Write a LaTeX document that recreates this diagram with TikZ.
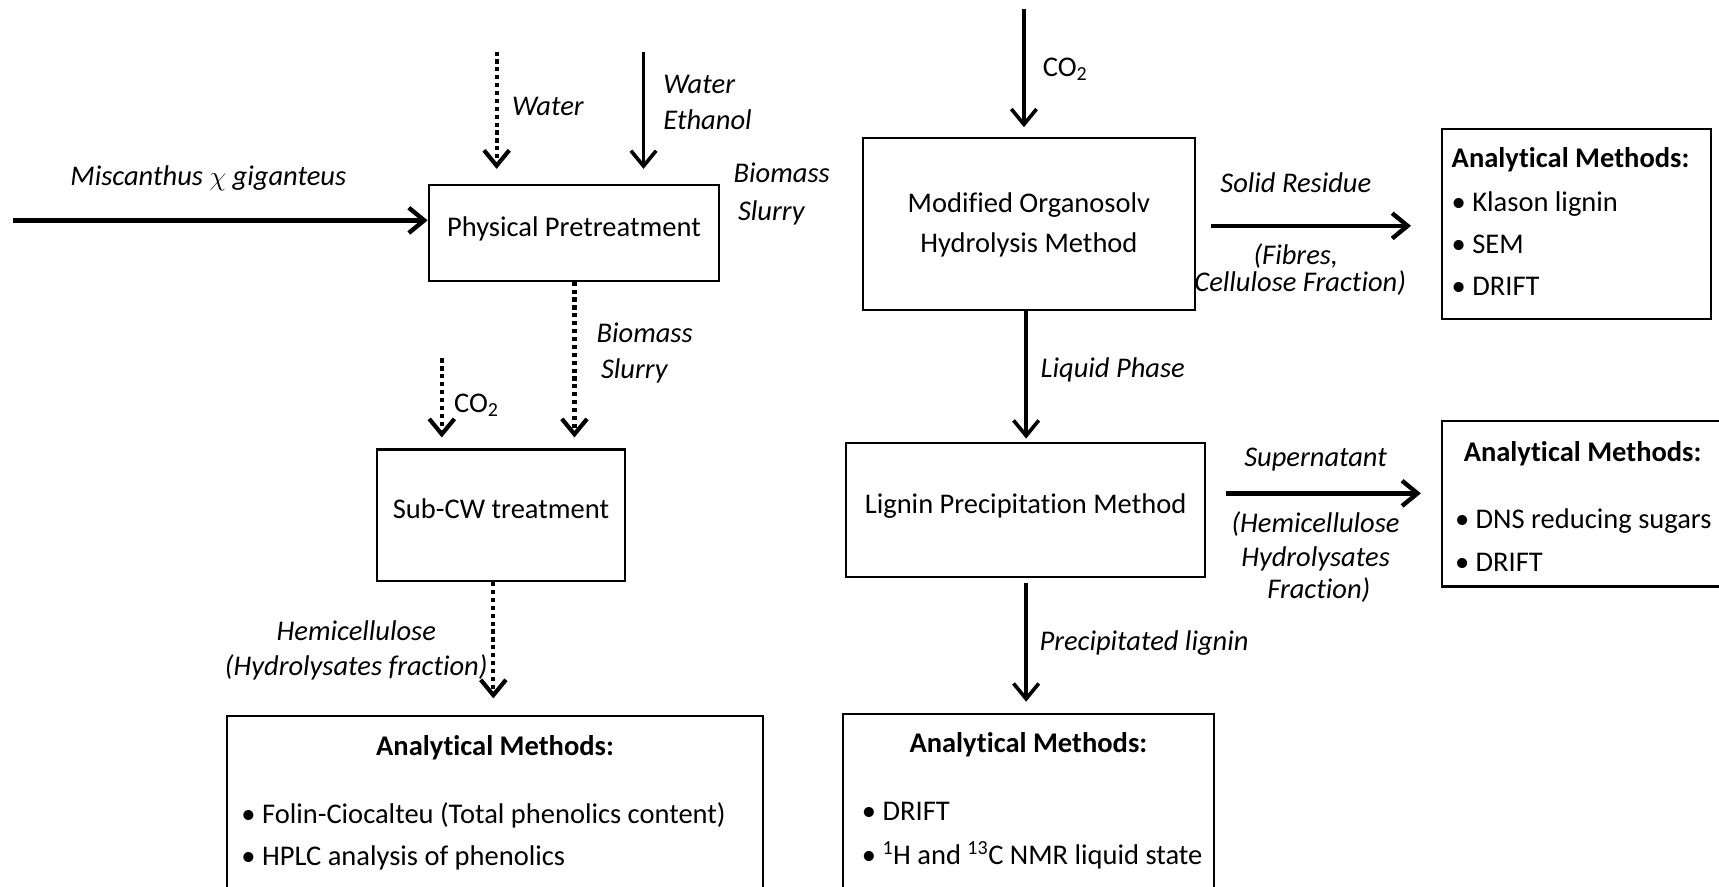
\documentclass[tikz,border=0pt]{standalone}
\usepackage{fontspec}
\setmainfont{Carlito}[Ligatures=NoCommon]
\usetikzlibrary{arrows.meta}
\begin{document}
\begin{tikzpicture}[x=1pt,y=-1pt,
  every node/.style={inner sep=0pt, font=\fontsize{26}{37}\selectfont},
  box/.style={draw, line width=1.9pt, text height=0.63em, text depth=0pt},
  lbl/.style={font=\fontsize{26}{37}\selectfont\itshape},
  head/.style={font=\fontsize{26}{37}\selectfont\bfseries},
  sarr/.style={line width=3.3pt, -{Straight Barb[length=14pt,width=23pt]}},
  darr/.style={sarr, line width=3.8pt, dash pattern=on 3.8pt off 3.4pt},
]
\useasboundingbox (0,0) rectangle (1568,809);
\clip (0,0) rectangle (1568,809);

% boxes
\node[box, minimum width=265pt, minimum height=87pt] (pp) at (523.5,212.5) {Physical Pretreatment};
\node[box, minimum width=226pt, minimum height=120pt] (sub) at (457,470) {Sub-CW treatment};
\node[box, minimum width=489pt, minimum height=162pt] (bl) at (451.5,734) {};
\node[box, minimum width=303pt, minimum height=157pt] (mo) at (938.5,204.5) {};
\node[box, minimum width=327pt, minimum height=122pt] (lig) at (935.5,465) {Lignin Precipitation Method};
\node[box, minimum width=246pt, minimum height=173pt] (am1) at (1438,204.5) {};
\node[box, minimum width=265pt, minimum height=151pt] (am2) at (1447.5,459.5) {};
\node[box, minimum width=338pt, minimum height=164pt] (br) at (938,733) {};

% left texts
\node[lbl, anchor=base] (tmisc) at (190,169.5) {Miscanthus $\chi$ giganteus};
\node[lbl, anchor=base west] (twater1) at (467,105.5) {Water};
\node[lbl, anchor=base west] (twater2) at (605,85.5) {Water};
\node[lbl, anchor=base west] (tethanol) at (605,118.5) {Ethanol};
\node[lbl, anchor=base west] (tbio1) at (669,166.5) {Biomass};
\node[lbl, anchor=base west] (tslu1) at (673,201.5) {Slurry};
\node[lbl, anchor=base west] (tbio2) at (544,312.5) {Biomass};
\node[lbl, anchor=base west] (tslu2) at (548,345.5) {Slurry};
\node[anchor=base west] (tco2a) at (414,376.5) {CO\textsubscript{2}};
\node[lbl, anchor=base] (themi) at (325,584.5) {Hemicellulose};
\node[lbl, anchor=base] (thyd) at (325,616.5) {(Hydrolysates fraction)};
\node[head, anchor=base] (tambl) at (451.5,689.5) {Analytical Methods:};
\node[anchor=base west] (tfolin) at (220,751.5) {\textbullet\ Folin-Ciocalteu (Total phenolics content)};
\node[anchor=base west] (thplc) at (220,789.5) {\textbullet\ HPLC analysis of phenolics};

% right texts
\node[anchor=base west] (tco2b) at (951,69.5) {CO\textsubscript{2}};
\node[anchor=base] (tmo1) at (938.5,193.5) {Modified Organosolv};
\node[anchor=base] (tmo2) at (938.5,230.5) {Hydrolysis Method};
\node[lbl, anchor=base] (tsolid) at (1182,175.5) {Solid Residue};
\node[lbl, anchor=base] (tfib) at (1182,241.5) {(Fibres,};
\node[lbl, anchor=base] (tcell) at (1186,265.5) {Cellulose Fraction)};
\node[head, anchor=base west] (tam1) at (1324,152.5) {Analytical Methods:};
\node[anchor=base west] (tkl) at (1324,192.5) {\textbullet\ Klason lignin};
\node[anchor=base west] (tsem) at (1324,231.5) {\textbullet\ SEM};
\node[anchor=base west] (tdr1) at (1324,269.5) {\textbullet\ DRIFT};
\node[lbl, anchor=base west] (tliq) at (949,344.5) {Liquid Phase};
\node[lbl, anchor=base] (tsup) at (1200,425.5) {Supernatant};
\node[lbl, anchor=base] (themi2) at (1200,485.5) {(Hemicellulose};
\node[lbl, anchor=base] (thyd2) at (1200,516.5) {Hydrolysates};
\node[lbl, anchor=base] (tfrac) at (1203,545.5) {Fraction)};
\node[head, anchor=base west] (tam2) at (1335,420.5) {Analytical Methods:};
\node[anchor=base west] (tdns) at (1327,482.5) {\textbullet\ DNS reducing sugars};
\node[anchor=base west] (tdr2) at (1327,521.5) {\textbullet\ DRIFT};
\node[lbl, anchor=base west] (tprec) at (948,593.5) {Precipitated lignin};
\node[head, anchor=base] (tambr) at (938,686.5) {Analytical Methods:};
\node[anchor=base west] (tdr3) at (786,748.5) {\textbullet\ DRIFT};
\node[anchor=base west] (tnmr) at (786,788.5) {\textbullet\ \textsuperscript{1}H and \textsuperscript{13}C NMR liquid state};

% connectors
\coordinate (c_misc) at (12,201);
\draw[sarr, line width=4pt] (c_misc) -- (c_misc -| pp.west);
\coordinate (c_w) at (453,47);
\draw[darr, shorten >=14pt] (c_w) -- (c_w |- pp.north);
\coordinate (c_we) at (587,47);
\draw[sarr, shorten >=14pt] (c_we) -- (c_we |- pp.north);
\coordinate (x_bs) at (524,0);
\draw[darr, shorten >=10pt] (x_bs |- pp.south) -- (x_bs |- sub.north);
\coordinate (c_co2a) at (403,327);
\draw[darr, shorten >=10pt] (c_co2a) -- (c_co2a |- sub.north);
\coordinate (x_hm) at (450,0);
\draw[darr, shorten >=15pt] (x_hm |- sub.south) -- (x_hm |- bl.north);
\coordinate (c_co2b) at (934,8);
\draw[sarr, shorten >=9pt] (c_co2b) -- (c_co2b |- mo.north);
\coordinate (x_r) at (936,0);
\draw[sarr, shorten >=3pt] (x_r |- mo.south) -- (x_r |- lig.north);
\draw[sarr, shorten <=5pt, shorten >=10pt] (x_r |- lig.south) -- (x_r |- br.north);
\coordinate (y_s) at (0,206);
\draw[sarr, line width=4pt, shorten <=14pt, shorten >=27pt] (mo.east |- y_s) -- (am1.west |- y_s);
\coordinate (y_n) at (0,450);
\draw[sarr, line width=4pt, shorten <=18pt, shorten >=18pt] (lig.east |- y_n) -- (am2.west |- y_n);
\end{tikzpicture}
\end{document}
